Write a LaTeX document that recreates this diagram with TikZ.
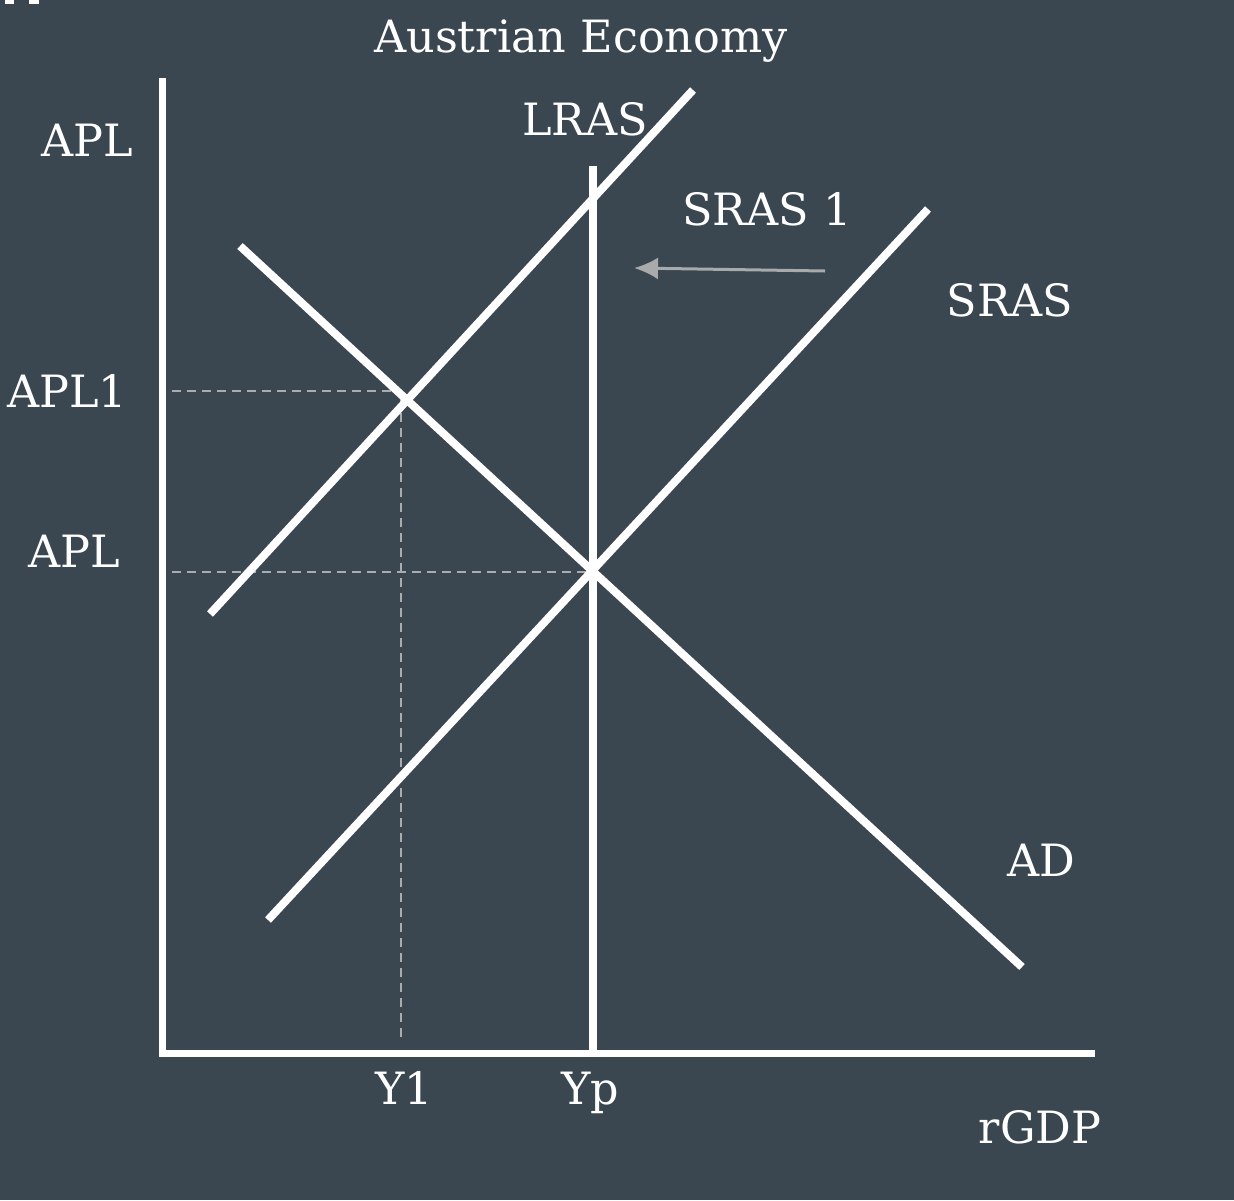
\documentclass[tikz,border=0pt]{standalone}
\usepackage{fontspec}
\setmainfont{DejaVu Serif}
\usetikzlibrary{arrows.meta}
\definecolor{bg}{HTML}{3A4650}
\definecolor{dashgray}{HTML}{A9ADB0}
\definecolor{arrowgray}{HTML}{A8AAAC}
\begin{document}
\begin{tikzpicture}[x=1pt,y=-1pt,
  curve/.style={draw=white,line width=8pt},
  axis/.style={draw=white,line width=7pt},
  guide/.style={draw=dashgray,line width=2pt,dash pattern=on 9pt off 6pt},
  lbl/.style={text=white,font=\fontsize{44.5}{48}\selectfont,anchor=base,inner sep=0pt}]
\fill[bg] (0,0) rectangle (1234,1200);
\useasboundingbox (0,0) rectangle (1234,1200);
% tiny marks at top-left
\fill[white] (5,0) rectangle (14,4);
\fill[white] (29,0) rectangle (39,4);
% coordinates
\coordinate (yaxTop) at (162,78);
\coordinate (origin) at (162,1053);
\coordinate (xaxEnd) at (1095,1053);
\coordinate (lrasTop) at (593,166);
\coordinate (lrasBot) at (593,1050);
\coordinate (s1a) at (210,614);
\coordinate (s1b) at (693,90);
\coordinate (sa) at (268,920);
\coordinate (sb) at (928,209);
\coordinate (ada) at (240,246);
\coordinate (adb) at (1022,967);
\coordinate (e1) at (402,391);
\coordinate (e0) at (593,572);
\coordinate (h1) at (172,391);
\coordinate (h0) at (172,572);
\coordinate (v1top) at (401,398);
\coordinate (v1) at (401,1040);
\coordinate (arrS) at (825,271);
\coordinate (arrE) at (634,268);
% dashed guides
\draw[guide] (h1) -- (e1);
\draw[guide] (h0) -- (e0);
\draw[guide] (v1top) -- (v1);
% curves
\draw[curve] (s1a) -- (s1b);
\draw[curve] (sa) -- (sb);
\draw[curve] (ada) -- (adb);
\draw[curve] (lrasTop) -- (lrasBot);
% axes
\draw[axis] (yaxTop) -- (origin) -- (xaxEnd);
% shift arrow
\draw[arrowgray,line width=3pt,-{Latex[length=24pt,width=22pt]}] (arrS) -- (arrE);
% labels
\node[lbl] (title) at (581,52) {Austrian Economy};
\node[lbl] (lras) at (585,135) {LRAS};
\node[lbl] (apltop) at (87,156) {APL};
\node[lbl] (sras1) at (767,225) {SRAS 1};
\node[lbl] (sras) at (1010,316) {SRAS};
\node[lbl] (apl1) at (67,407) {APL1};
\node[lbl] (apl) at (74,567) {APL};
\node[lbl] (ad) at (1041,876) {AD};
\node[lbl] (y1) at (404,1104) {Y1};
\node[lbl] (yp) at (590,1104) {Yp};
\node[lbl] (rgdp) at (1040,1143) {rGDP};
\end{tikzpicture}
\end{document}
